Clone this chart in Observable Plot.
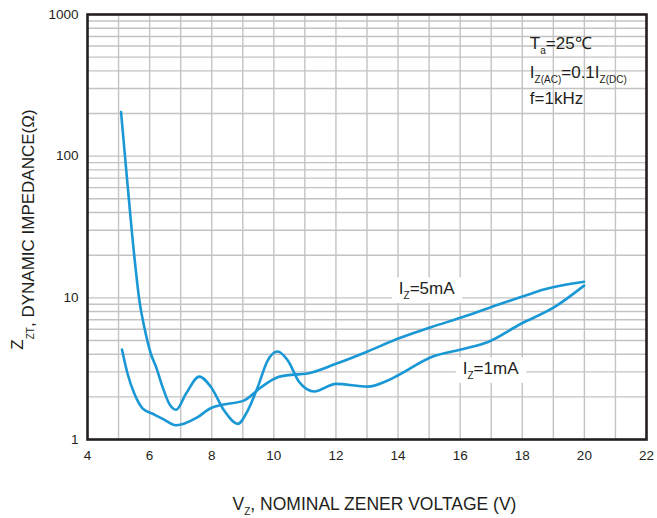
<!DOCTYPE html>
<html>
<head>
<meta charset="utf-8">
<script src="https://cdn.jsdelivr.net/npm/d3@7"></script>
<script src="https://cdn.jsdelivr.net/npm/@observablehq/plot@0.6"></script>
<style>
  html, body { margin: 0; padding: 0; background: #fff; }
  #chart svg { display: block; }
</style>
</head>
<body>
<div id="chart"></div>
<script>
// ---- data ----
// I_Z = 1 mA curve: nominal zener voltage (V) and dynamic impedance (ohm)
const v1mA = [5.08, 5.29, 5.51, 5.67, 5.83, 6.04, 6.21, 6.42, 6.63, 6.85, 7.17, 7.60, 7.98, 8.40, 8.84, 9.16, 9.48, 9.80, 10.12, 10.45, 10.82, 11.30, 12.00, 13.02, 13.67, 13.99, 15.06, 16.13, 16.88, 17.96, 19.03, 19.99];
const z1mA = [205, 62.7, 19.4, 9.6, 6.2, 4.03, 3.24, 2.34, 1.79, 1.62, 2.10, 2.78, 2.34, 1.60, 1.29, 1.60, 2.34, 3.61, 4.18, 3.61, 2.54, 2.18, 2.47, 2.36, 2.61, 2.83, 3.81, 4.37, 4.86, 6.56, 8.59, 12.2];
// I_Z = 5 mA curve
const v5mA = [5.11, 5.29, 5.51, 5.78, 6.10, 6.42, 6.85, 7.55, 7.98, 8.24, 9.05, 9.59, 10.12, 10.55, 11.03, 12.00, 13.02, 13.99, 15.06, 16.13, 17.31, 18.28, 18.60, 19.99];
const z5mA = [4.32, 2.91, 2.10, 1.65, 1.52, 1.40, 1.26, 1.44, 1.67, 1.74, 1.89, 2.34, 2.75, 2.86, 2.91, 3.42, 4.18, 5.14, 6.20, 7.38, 9.08, 10.7, 11.3, 13.0];

const xTicks = [4, 6, 8, 10, 12, 14, 16, 18, 20, 22];
const yTicks = [1, 10, 100, 1000];
const xGrid = [5, 6, 7, 8, 9, 10, 11, 12, 13, 14, 15, 16, 17, 18, 19, 20, 21];
const yGrid = [2, 3, 4, 5, 6, 7, 8, 9, 10, 20, 30, 40, 50, 60, 70, 80, 90, 100, 200, 300, 400, 500, 600, 700, 800, 900];

// curve labels: text pieces, anchor voltage, anchor impedance (baseline start)
const curveLabels = [
  { parts: [["I"], ["Z", "sub"], ["=5mA"]], v: 14.04, z: 10.5 },
  { parts: [["I"], ["Z", "sub"], ["=1mA"]], v: 16.10, z: 2.86 }
];
// condition note (top right)
const noteLines = [
  [["T"], ["a", "sub"], ["=25\u2103"]],
  [["I"], ["Z(AC)", "sub"], ["=0.1I"], ["Z(DC)", "sub"]],
  [["f=1kHz"]]
];
const noteV = 18.26;
const noteZ = [566, 353, 233];

const xTitle = [["V"], ["Z", "sub"], [", NOMINAL ZENER VOLTAGE (V)"]];
const yTitle = [["Z", "raise"], ["ZT", "small"], [", DYNAMIC IMPEDANCE(\u03A9)"]];

// ---- build ----
const rows1 = v1mA.map((v, i) => ({ v, z: z1mA[i] }));
const rows5 = v5mA.map((v, i) => ({ v, z: z5mA[i] }));

const ink = "#231f20";
const gridColor = "#c3c3c3";
const blue = "#1a97d5";
const font = "Arial, 'Liberation Sans', Helvetica, sans-serif";

const plot = Plot.plot({
  width: 657,
  height: 518,
  marginTop: 14,
  marginRight: 11,
  marginBottom: 79,
  marginLeft: 87,
  style: { fontFamily: font, fontSize: "13.5px", color: ink, background: "#fff", overflow: "visible" },
  x: { domain: [4, 22] },
  y: { type: "log", domain: [1, 1000] },
  marks: [
    Plot.ruleX(xGrid, { stroke: gridColor, strokeWidth: 1.4 }),
    Plot.ruleY(yGrid, { stroke: gridColor, strokeWidth: 1.4 }),
    Plot.line(rows1, { x: "v", y: "z", stroke: blue, strokeWidth: 2.6, curve: "monotone-x" }),
    Plot.line(rows5, { x: "v", y: "z", stroke: blue, strokeWidth: 2.6, curve: "monotone-x" }),
    Plot.frame({ stroke: ink, strokeWidth: 2.6 }),
    Plot.axisX({ ticks: xTicks, tickSize: 0, tickPadding: 11, label: null, tickFormat: d => String(d) }),
    Plot.axisY({ ticks: yTicks, tickSize: 0, tickPadding: 9, label: null, tickFormat: d => String(d) })
  ]
});

document.getElementById("chart").appendChild(plot);

const sx = plot.scale("x");
const sy = plot.scale("y");
const svg = d3.select(plot);
const layer = svg.append("g").attr("font-family", font).attr("fill", ink).attr("text-anchor", "start");

function rich(parent, x, y, parts, size, opts = {}) {
  const t = parent.append("text")
    .attr("x", x).attr("y", y)
    .attr("font-size", size)
    .attr("fill", ink)
    .attr("text-anchor", opts.anchor || "start");
  if (opts.transform) t.attr("transform", opts.transform);
  let shift = 0;
  for (const [txt, kind] of parts) {
    let off = 0, fs = null;
    if (kind === "sub") { off = 4.5; fs = 10; }
    if (kind === "small") { off = 0; fs = 10; }
    if (kind === "raise") { off = -11; }
    const s = t.append("tspan").text(txt).attr("dy", off - shift);
    if (fs) s.attr("font-size", fs);
    shift = off;
  }
  return t;
}

// curve labels with white boxes behind
for (const lab of curveLabels) {
  const g = layer.append("g");
  const rect = g.append("rect").attr("fill", "#fff");
  const t = rich(g, sx.apply(lab.v), sy.apply(lab.z), lab.parts, 17);
  const b = t.node().getBBox();
  rect.attr("x", b.x - 7).attr("y", b.y - 2).attr("width", b.width + 14).attr("height", b.height + 4);
}

// condition note
noteLines.forEach((parts, i) => {
  rich(layer, sx.apply(noteV), sy.apply(noteZ[i]), parts, 17);
});

// axis titles
const [x0, x1] = sx.range;
rich(layer, (x0 + x1) / 2 + 8, 510, xTitle, 17.5, { anchor: "middle" });
const yc = (sy.range[0] + sy.range[1]) / 2 + 3;
rich(layer, 34, yc, yTitle, 17, { anchor: "middle", transform: `rotate(-90, 34, ${yc})` });
</script>
</body>
</html>
